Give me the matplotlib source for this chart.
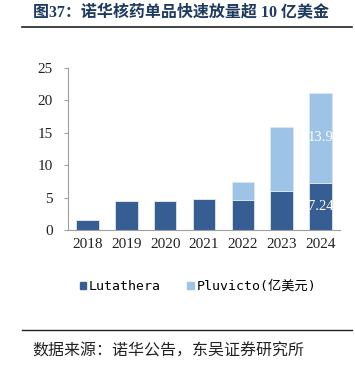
import matplotlib.pyplot as plt
from matplotlib.patches import Patch

years = ['2018', '2019', '2020', '2021', '2022', '2023', '2024']
lutathera = [1.6, 4.4, 4.4, 4.7, 4.6, 6.0, 7.24]
pluvicto = [0, 0, 0, 0, 2.8, 9.9, 13.9]
yticks = [0, 5, 10, 15, 20, 25]

dark = '#365E92'
light = '#9DC3E6'
serif = ['Liberation Serif', 'Noto Sans CJK SC']

fig = plt.figure(figsize=(3.55, 3.79), dpi=100)
ax = fig.add_axes([68 / 355, 1 - 230 / 379, 272 / 355, 162.3 / 379])

x = range(len(years))
ax.bar(x, lutathera, width=0.58, color=dark, edgecolor='#DDE6F0', linewidth=0.6)
ax.bar(x, pluvicto, width=0.58, bottom=lutathera, color=light,
       edgecolor='#DDE6F0', linewidth=0.6)

# labels on the last bar only
ax.text(6, lutathera[6] / 2, f'{lutathera[6]:.2f}', ha='center', va='center',
        color='white', fontsize=10.5, family=serif)
ax.text(6, lutathera[6] + pluvicto[6] / 2, f'{pluvicto[6]:.1f}', ha='center',
        va='center', color='white', fontsize=10.5, family=serif)

ax.set_xlim(-0.5, 6.5)
ax.set_ylim(0, 25)
ax.set_yticks(yticks)
ax.set_xticks(list(x))
ax.set_xticklabels(years)
for lab in ax.get_xticklabels() + ax.get_yticklabels():
    lab.set_family(serif)
    lab.set_fontsize(11)
    lab.set_color('#222222')
ax.tick_params(axis='x', length=0, pad=6)
ax.tick_params(axis='y', length=3, color='#A0A0A0', pad=8)
for s in ['top', 'right']:
    ax.spines[s].set_visible(False)
ax.spines['left'].set_color('#A0A0A0')
ax.spines['bottom'].set_color('#A0A0A0')

handles = [Patch(color=dark, label='Lutathera'),
           Patch(color=light, label='Pluvicto(亿美元)')]
fig.legend(handles=handles, loc='center', bbox_to_anchor=(198 / 355, 1 - 286.5 / 379),
           ncol=2, frameon=False,
           prop={'family': ['DejaVu Sans Mono', 'Noto Sans CJK SC'], 'size': 9.5},
           handlelength=0.5, handleheight=0.5, handletextpad=0.2, columnspacing=2.0)

# title and rules
fig.text(33 / 355, 1 - 12 / 379, '图37：诺华核药单品快速放量超 10 亿美金',
         ha='left', va='center', fontsize=11.5, fontweight='bold',
         color='#1F3A60', family=serif)
fig.add_artist(plt.Line2D([22 / 355, 352 / 355], [1 - 26.5 / 379, 1 - 26.5 / 379],
                          color='#222222', linewidth=1.2))
fig.add_artist(plt.Line2D([22 / 355, 352 / 355], [1 - 330 / 379, 1 - 330 / 379],
                          color='#222222', linewidth=1.0))
fig.text(32 / 355, 1 - 351 / 379, '数据来源：诺华公告，东吴证券研究所',
         ha='left', va='center', fontsize=11.5, color='#222222',
         family=['Noto Sans CJK SC'])

fig.savefig('out.png', dpi=100)
